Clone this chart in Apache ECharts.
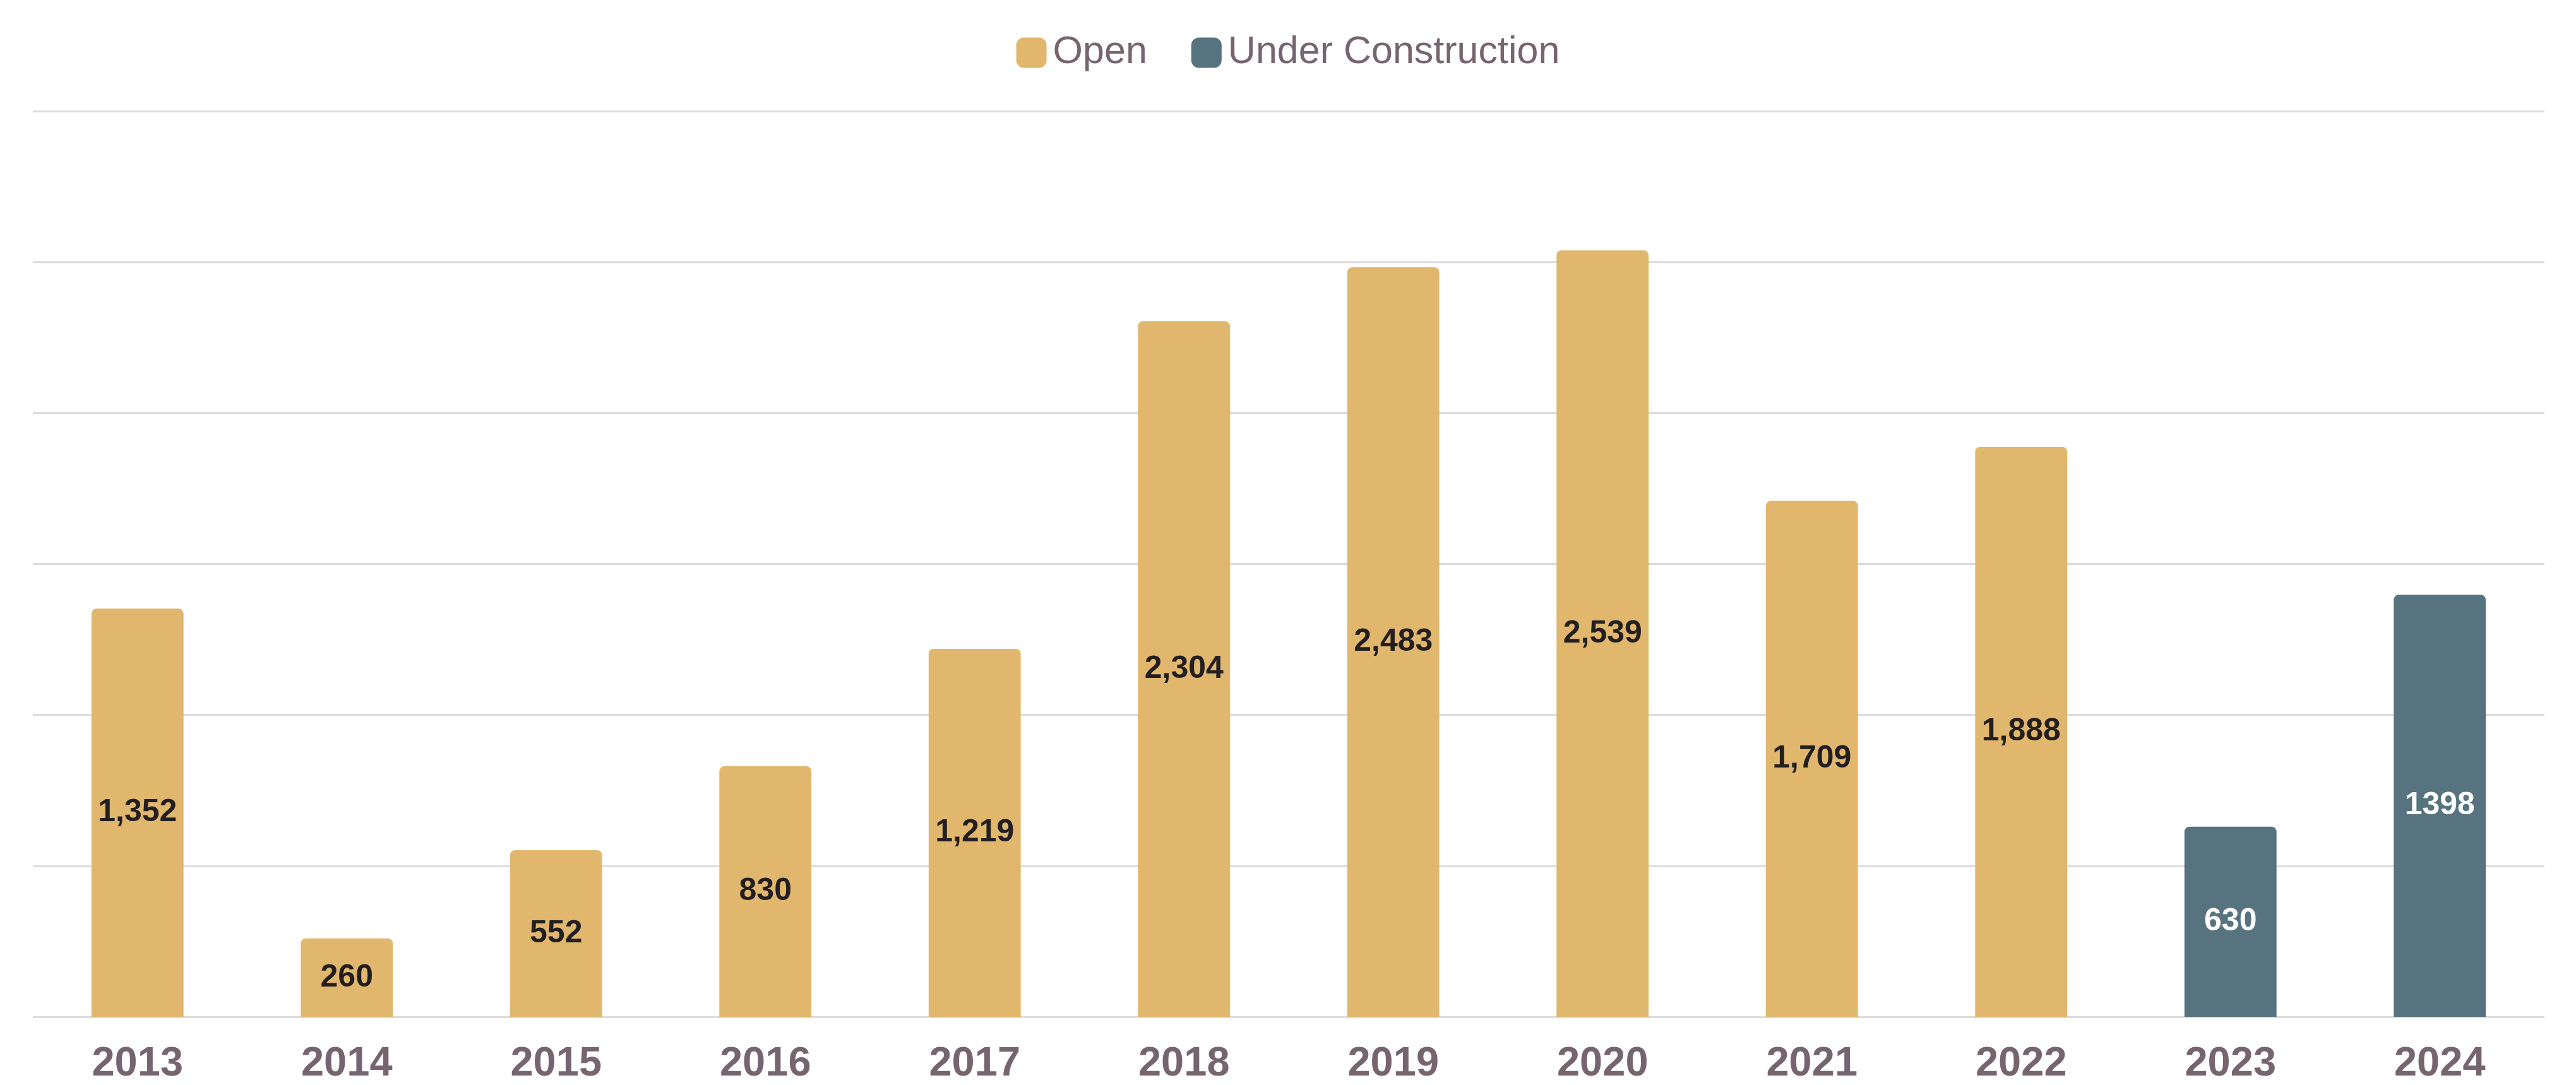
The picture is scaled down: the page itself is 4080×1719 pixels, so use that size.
<!DOCTYPE html>
<html>
<head>
<meta charset="utf-8">
<style>
  html, body { margin: 0; padding: 0; background: #fff; }
  #chart { width: 4080px; height: 1719px; }
</style>
<script src="https://cdn.jsdelivr.net/npm/echarts@6/dist/echarts.min.js"></script>
</head>
<body>
<div id="chart"></div>
<script>
// chart data
var years = ['2013', '2014', '2015', '2016', '2017', '2018', '2019', '2020', '2021', '2022', '2023', '2024']
var openData = [1352, 260, 552, 830, 1219, 2304, 2483, 2539, 1709, 1888, '-', '-']
var constructionData = ['-', '-', '-', '-', '-', '-', '-', '-', '-', '-', 630, 1398]

var openColor = '#E1B76E'
var constructionColor = '#56737F'
var textColor = '#76656F'
var fontFamily = '"Liberation Sans", Arial, sans-serif'

var chart = echarts.init(document.getElementById('chart'))

chart.setOption({
  animation: false,
  legend: {
    top: 53,
    left: 'center',
    padding: 0,
    itemWidth: 48,
    itemHeight: 48,
    itemGap: 70,
    icon: 'roundRect',
    textStyle: {
      color: textColor,
      fontSize: 61,
      fontFamily: fontFamily,
      padding: [0, 0, 0, 5]
    },
    data: ['Open', 'Under Construction']
  },
  grid: {
    left: 52,
    right: 50,
    top: 176,
    bottom: 102,
    containLabel: false
  },
  xAxis: {
    type: 'category',
    data: years,
    axisLine: { show: false },
    axisTick: { show: false },
    axisLabel: {
      color: textColor,
      fontSize: 65,
      fontWeight: 'bold',
      fontFamily: fontFamily,
      margin: 43
    }
  },
  yAxis: {
    type: 'value',
    min: 0,
    max: 3000,
    interval: 500,
    axisLabel: { show: false },
    axisLine: { show: false },
    axisTick: { show: false },
    splitLine: {
      lineStyle: {
        color: '#DEDADC',
        width: 3
      }
    }
  },
  series: [{
    name: 'Open',
    type: 'bar',
    stack: 'total',
    barWidth: '44%',
    data: openData,
    itemStyle: {
      color: openColor,
      borderRadius: [8, 8, 0, 0]
    },
    label: {
      show: true,
      position: 'inside',
      color: '#231F20',
      fontSize: 50,
      fontWeight: 'bold',
      fontFamily: fontFamily,
      formatter: function(p) {
        return Number(p.value).toLocaleString('en-US')
      }
    }
  },
  {
    name: 'Under Construction',
    type: 'bar',
    stack: 'total',
    barWidth: '44%',
    data: constructionData,
    itemStyle: {
      color: constructionColor,
      borderRadius: [8, 8, 0, 0]
    },
    label: {
      show: true,
      position: 'inside',
      color: '#FFFFFF',
      fontSize: 50,
      fontWeight: 'bold',
      fontFamily: fontFamily
    }
  }]
})
</script>
</body>
</html>
